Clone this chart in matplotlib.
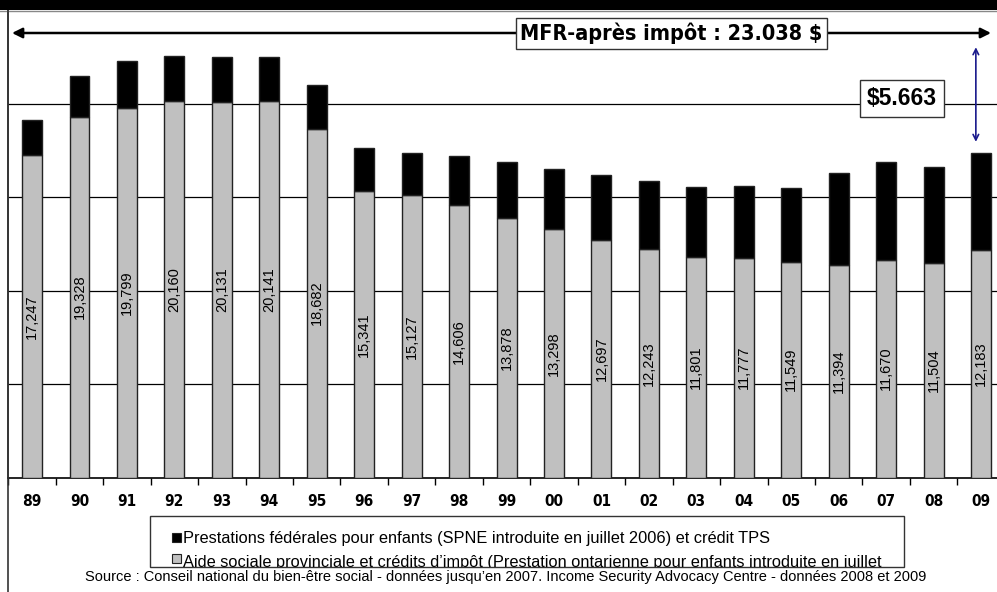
import os
import matplotlib
matplotlib.use("Agg")
import matplotlib.pyplot as plt
import matplotlib.font_manager as fm
from matplotlib.patches import Rectangle, FancyArrowPatch
from matplotlib.lines import Line2D

# ---------------- data ----------------
years = ["89", "90", "91", "92", "93", "94", "95", "96", "97", "98", "99",
         "00", "01", "02", "03", "04", "05", "06", "07", "08", "09"]
provincial = [17247, 19328, 19799, 20160, 20131, 20141, 18682, 15341, 15127,
              14606, 13878, 13298, 12697, 12243, 11801, 11777, 11549, 11394,
              11670, 11504, 12183]
federal = [1895, 2170, 2501, 2408, 2384, 2390, 2334, 2281, 2227, 2588, 3016,
           3237, 3501, 3650, 3733, 3832, 3932, 4890, 5203, 5101, 5192]
series_names = [
    "Prestations fédérales pour enfants (SPNE introduite en juillet 2006) et crédit TPS",
    "Aide sociale provinciale et crédits d\u2019impôt (Prestation ontarienne pour enfants introduite en juillet",
]
mfr_label = "MFR-après impôt : 23.038 $"
mfr_value = 23038
gap_label = "$5.663"
source_text = ("Source : Conseil national du bien-être social - données jusqu\u2019en 2007. "
               "Income Security Advocacy Centre - données 2008 et 2009")


# ---------------- fonts ----------------
def find_file(*names):
    files = {os.path.basename(f.fname).lower(): f.fname for f in fm.fontManager.ttflist}
    for n in names:
        if n in files:
            return n, files[n]
    return None, None


def make_fp(candidates, size, fallback=("Liberation Sans", "bold", 1.0)):
    """candidates: list of (filename, size_scale)."""
    for fname, scale in candidates:
        _, path = find_file(fname)
        if path:
            return fm.FontProperties(fname=path, size=size * scale)
    fam, wt, sc = fallback
    return fm.FontProperties(family=[fam, "DejaVu Sans"], weight=wt, size=size * sc)


W, H = 997, 592
fig = plt.figure(figsize=(W / 100, H / 100), dpi=100)
fig.patch.set_facecolor("white")


def fx(px):
    return px / W


def fy(py):
    return 1 - py / H


# axes geometry (pixels)
ax_left, ax_right = 8.3, 1004.8
ax_top, ax_bottom = 10.6, 477.6
ax = fig.add_axes([fx(ax_left), fy(ax_bottom), (ax_right - ax_left) / W,
                   (ax_bottom - ax_top) / H])
ax.set_xlim(-0.5, len(years) - 0.5)
ax.set_ylim(0, 25000)

x = list(range(len(years)))
ax.bar(x, provincial, width=0.42, color="#C0C0C0", edgecolor="#222222", linewidth=1.0, zorder=3)
ax.bar(x, federal, bottom=provincial, width=0.42, color="black", edgecolor="#222222",
       linewidth=1.0, zorder=3)

val_fp = make_fp([("liberationsans-regular.ttf", 1.0)], 10.5, ("Liberation Sans", "normal", 1.0))
for xi, v in zip(x, provincial):
    ax.text(xi, v / 2, f"{v:,}", rotation=90, ha="center", va="center",
            fontproperties=val_fp, color="black", zorder=4)

ax.set_yticks([5000, 10000, 15000, 20000])
ax.yaxis.grid(True, color="black", linewidth=0.9)
ax.set_axisbelow(True)
ax.tick_params(axis="y", left=False, labelleft=False)

tick_fp = make_fp([("liberationsansnarrow-bold.ttf", 1.0),
                   ("dejavusanscondensed-bold.ttf", 0.92)], 12.0,
                  ("Liberation Sans", "bold", 0.95))
ax.set_xticks(x)
ax.set_xticklabels(years, fontproperties=tick_fp)
ax.set_xticks([i - 0.5 for i in range(len(years) + 1)], minor=True)
ax.tick_params(axis="x", which="major", length=0, pad=12)
ax.tick_params(axis="x", which="minor", length=5, width=1, color="black", direction="out")
for s in ["top", "right"]:
    ax.spines[s].set_visible(False)
ax.spines["bottom"].set_linewidth(1.2)
ax.spines["left"].set_linewidth(1.2)
ax.spines["left"].set_color("#333333")

# blue double arrow for the gap
ax.annotate("", xy=(19.89, mfr_value), xytext=(19.89, provincial[-1] + federal[-1] + 600),
            arrowprops=dict(arrowstyle="<->", color="#1a1a8c", lw=1.2,
                            shrinkA=0, shrinkB=0), zorder=6)
gap_fp = make_fp([("liberationsans-bold.ttf", 1.0)], 16.5)
ax.text(18.33, 20300, gap_label, ha="center", va="center", fontproperties=gap_fp, zorder=7,
        bbox=dict(boxstyle="square,pad=0.3", facecolor="white", edgecolor="#333333", lw=1))

# ---------------- figure decorations ----------------
fig.patches.append(Rectangle((0, fy(10)), 1, 10 / H, transform=fig.transFigure,
                             facecolor="black", edgecolor="none", zorder=10))
fig.lines.append(Line2D([0, 1], [fy(10.5), fy(10.5)], transform=fig.transFigure,
                        color="#888888", lw=1, zorder=10))
fig.lines.append(Line2D([fx(7.5), fx(7.5)], [0, fy(10)], transform=fig.transFigure,
                        color="#333333", lw=1.2, zorder=10))

# MFR horizontal double arrow
fig.add_artist(FancyArrowPatch(
    (fx(12), fy(33)), (fx(991), fy(33)), transform=fig.transFigure,
    arrowstyle="<|-|>,head_length=6,head_width=3", color="black", lw=1.8,
    shrinkA=0, shrinkB=0, zorder=8))
mfr_fp = make_fp([("liberationsansnarrow-bold.ttf", 1.2),
                  ("dejavusanscondensed-bold.ttf", 0.97)], 16.0,
                 ("Liberation Sans", "bold", 1.03))
fig.text(fx(671.5), fy(33.5), mfr_label, ha="center", va="center", fontproperties=mfr_fp,
         zorder=9,
         bbox=dict(boxstyle="square,pad=0.22", facecolor="white", edgecolor="#333333", lw=1))

# manual legend box (second entry clipped at the bottom)
leg_x0, leg_y0, leg_x1, leg_y1 = 150, 516, 904, 566.7
leg_rect = Rectangle((fx(leg_x0), fy(leg_y1)), (leg_x1 - leg_x0) / W, (leg_y1 - leg_y0) / H,
                     transform=fig.transFigure, facecolor="white", edgecolor="#333333",
                     lw=1, zorder=11)
fig.patches.append(leg_rect)
leg_fp = make_fp([("liberationsans-regular.ttf", 1.0)], 11.8, ("Liberation Sans", "normal", 1.0))
colors = ["black", "#C0C0C0"]
sq_y = [533.0, 554.0]
base_y = [542.5, 566.8]
for name, c, sy, by in zip(series_names, colors, sq_y, base_y):
    sq = Rectangle((fx(172), fy(sy + 8.5)), 8.5 / W, 8.5 / H, transform=fig.transFigure,
                   facecolor=c, edgecolor="#222222", lw=0.8, zorder=12)
    fig.patches.append(sq)
    t = fig.text(fx(183), fy(by), name, ha="left", va="baseline", fontproperties=leg_fp,
                 zorder=12)
    t.set_clip_path(leg_rect)

src_fp = make_fp([("liberationsans-regular.ttf", 1.0)], 10.5, ("Liberation Sans", "normal", 1.0))
fig.text(fx(506), fy(577), source_text, ha="center", va="center", fontproperties=src_fp)

fig.savefig("out.png", dpi=100, facecolor="white")
